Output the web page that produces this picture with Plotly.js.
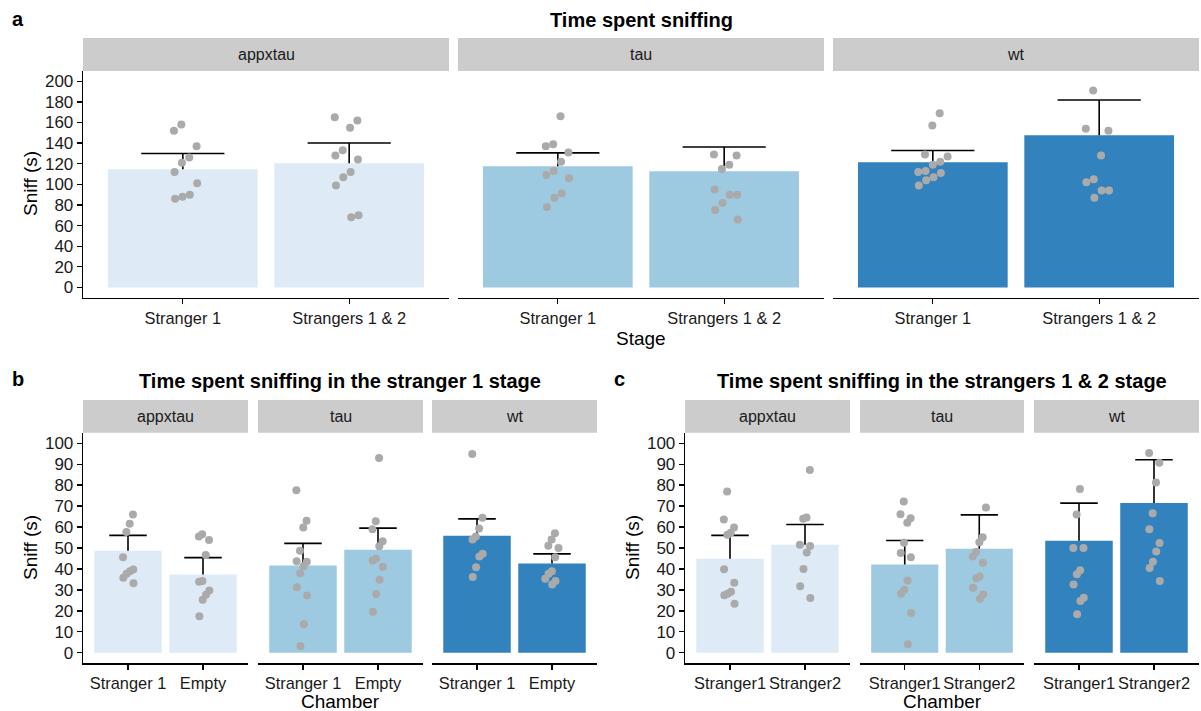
<!DOCTYPE html>
<html>
<head>
<meta charset="utf-8">
<script src="https://cdn.plot.ly/plotly-3.0.1.min.js"></script>
<style>
  html, body { margin: 0; padding: 0; background: #fff; }
  #chart { width: 1201px; height: 711px; }
</style>
</head>
<body>
<div id="chart"></div>
<script>
// ---- Data ---------------------------------------------------------------
const genotypes = ['appxtau', 'tau', 'wt'];
const genotypeColors = ['#DEEBF7', '#9ECAE1', '#3182BD'];

// (a) Time spent sniffing per stage
const stageLabels = ['Stranger 1', 'Strangers 1 & 2'];
const stageMeans = [[114.7, 120.5], [117.6, 112.7], [121.5, 147.6]];
const stageSE    = [[15.2, 19.7], [12.9, 23.6], [11.3, 34.3]];
const stagePoints = [
  [[158, 152, 137, 126, 121, 112, 101, 90, 88, 86],
   [165, 162, 155, 133, 128, 124, 112, 107, 99, 70, 68]],
  [[166, 139, 137, 131, 122, 113, 109, 106, 91, 87, 78],
   [129, 128, 119, 115, 95, 90, 90, 82, 75, 66]],
  [[169, 157, 129, 127, 122, 119, 113, 112, 111, 107, 104, 99],
   [191, 154, 152, 128, 105, 102, 94, 94, 87]]
];

// (b) Stranger 1 stage, per chamber
const s1Labels = ['Stranger 1', 'Empty'];
const s1Means = [[48.7, 37.3], [41.6, 49.2], [55.9, 42.6]];
const s1SE    = [[7.3, 8.1], [10.6, 10.3], [8.0, 4.6]];
const s1Points = [
  [[66, 61.6, 57.6, 45.6, 39.7, 38.9, 37.7, 35.8, 33.2],
   [56.6, 55.5, 53.8, 46.7, 34.3, 33.9, 29.7, 27.7, 25.3, 17.4]],
  [[77.5, 63, 59.8, 48.7, 43.7, 43.5, 41.3, 38, 31.3, 27.4, 13.6, 3.3],
   [92.9, 62.8, 59, 53.2, 50.8, 44.9, 44, 41.1, 34.8, 28, 19.6]],
  [[94.8, 64.4, 59.3, 55.5, 54, 47.2, 45.9, 40.8, 36.2],
   [57, 54.1, 51.1, 50, 45.6, 38.9, 37.7, 35.3, 34.2, 32.6]]
];

// (c) Strangers 1 & 2 stage, per chamber
const s12Labels = ['Stranger1', 'Stranger2'];
const s12Means = [[44.9, 51.6], [42.1, 49.7], [53.5, 71.5]];
const s12SE    = [[11.1, 9.6], [11.5, 16.1], [17.9, 20.6]];
const s12Points = [
  [[76.9, 63.6, 59.8, 57.3, 56.3, 39.9, 33.4, 29.1, 28.2, 27.5, 23.4],
   [87.2, 64.6, 63.9, 51.6, 50.9, 47.9, 40, 31.8, 26.1]],
  [[72.2, 66.1, 64.2, 62, 52.5, 47.6, 45.6, 34.5, 30.1, 28.2, 19, 4.1],
   [69.3, 55.1, 52.7, 48.1, 46, 43, 36.4, 35.6, 31, 27.8, 25.8]],
  [[78.2, 66, 50, 50, 39.4, 37.5, 32.6, 26.3, 24.7, 18.4],
   [95.3, 90.7, 81.2, 66.6, 58.9, 52.4, 48.3, 43.5, 40.5, 34.2]]
];

// ---- Layout helpers (pixel positions -> paper fractions) ----------------
const W = 1201, H = 711;
const px = x => x / W;
const py = y => 1 - y / H;
const FONT = 'Liberation Sans, Arial, Helvetica, sans-serif';

const rowA  = { strip: 38,  top: 71,    bottom: 297.7 };
const rowBC = { strip: 400, top: 432.7, bottom: 663.3 };

const traces = [];
const layout = {
  width: W, height: H,
  margin: { l: 0, r: 0, t: 0, b: 0 },
  paper_bgcolor: '#fff', plot_bgcolor: 'rgba(0,0,0,0)',
  showlegend: false,
  bargap: 0.1,
  font: { family: FONT, size: 16, color: '#000' },
  shapes: [], annotations: []
};

// deterministic horizontal jitter for the individual animals
function jitter(k, seed) {
  const v = (k * 0.7548776662 + seed * 0.5698402910 + 0.31) % 1;
  return (v - 0.5) * 2 * 0.09;
}

const CAP = 0.25; // half-width of the error-bar cap, in category units

let panelIndex = 0;
function addPanel(xr, row, yRange, dtick, showY, labels, means, se, pts, color, stripText) {
  panelIndex += 1;
  const n = panelIndex;
  const xa = n === 1 ? 'xaxis' : 'xaxis' + n;
  const ya = n === 1 ? 'yaxis' : 'yaxis' + n;
  const xref = n === 1 ? 'x' : 'x' + n;
  const yref = n === 1 ? 'y' : 'y' + n;

  // bars (mean)
  traces.push({
    type: 'bar', x: [0, 1], y: means, xaxis: xref, yaxis: yref,
    marker: { color: color, line: { width: 0 } }, hoverinfo: 'y'
  });
  // upper error bar: stem from the mean to mean + SE, with a cap on top
  const ex = [], ey = [];
  means.forEach((m, c) => {
    const top = m + se[c];
    ex.push(c, c, null, c - CAP, c + CAP, null);
    ey.push(m, top, null, top, top, null);
  });
  traces.push({
    type: 'scatter', mode: 'lines', x: ex, y: ey, xaxis: xref, yaxis: yref,
    line: { color: '#000', width: 1.6 }, hoverinfo: 'skip', connectgaps: false
  });
  // individual animals
  pts.forEach((vals, c) => {
    traces.push({
      type: 'scatter', mode: 'markers', xaxis: xref, yaxis: yref,
      x: vals.map((v, k) => c + jitter(k, n * 2 + c)),
      y: vals,
      marker: { color: '#AAAAAA', size: 8, line: { width: 0 } },
      hoverinfo: 'y'
    });
  });

  layout[xa] = {
    domain: [px(xr[0]), px(xr[1])], anchor: yref,
    range: [-0.6, 1.6], tickvals: [0, 1], ticktext: labels, tickangle: 0,
    showgrid: false, zeroline: false,
    showline: true, linecolor: '#000', linewidth: 1.3,
    ticks: 'outside', ticklen: 5, tickwidth: 1.3, tickcolor: '#000',
    tickfont: { family: FONT, size: 16.4, color: '#1a1a1a' }, fixedrange: true
  };
  layout[ya] = {
    domain: [py(row.bottom), py(row.top)], anchor: xref,
    range: yRange, dtick: dtick, tick0: 0,
    showgrid: false, zeroline: false,
    showline: showY, linecolor: '#000', linewidth: 1.3,
    ticks: showY ? 'outside' : '', ticklen: 5, tickwidth: 1.3, tickcolor: '#000',
    showticklabels: showY,
    tickfont: { family: FONT, size: 17, color: '#1a1a1a' }, fixedrange: true
  };

  // facet strip
  layout.shapes.push({
    type: 'rect', xref: 'paper', yref: 'paper',
    x0: px(xr[0]), x1: px(xr[1]), y0: py(row.top), y1: py(row.strip),
    fillcolor: '#CCCCCC', line: { width: 0 }, layer: 'below'
  });
  layout.annotations.push({
    xref: 'paper', yref: 'paper', x: px((xr[0] + xr[1]) / 2), y: py((row.top + row.strip) / 2),
    text: stripText, showarrow: false, xanchor: 'center', yanchor: 'middle',
    font: { family: FONT, size: 16, color: '#1a1a1a' }
  });
}

const panelsA = [[83, 449], [458, 824], [833, 1199]];
const panelsB = [[83, 248], [258, 423], [432, 597]];
const panelsC = [[685, 850], [860, 1024], [1034, 1199]];

genotypes.forEach((g, i) => addPanel(panelsA[i], rowA, [-10, 210], 20, i === 0,
  stageLabels, stageMeans[i], stageSE[i], stagePoints[i], genotypeColors[i], g));
genotypes.forEach((g, i) => addPanel(panelsB[i], rowBC, [-5, 105], 10, i === 0,
  s1Labels, s1Means[i], s1SE[i], s1Points[i], genotypeColors[i], g));
genotypes.forEach((g, i) => addPanel(panelsC[i], rowBC, [-5, 105], 10, i === 0,
  s12Labels, s12Means[i], s12SE[i], s12Points[i], genotypeColors[i], g));

// titles, panel tags and axis titles
function label(text, x, y, size, angle) {
  layout.annotations.push({
    xref: 'paper', yref: 'paper', x: px(x), y: py(y), text: text,
    showarrow: false, xanchor: 'center', yanchor: 'middle', textangle: angle || 0,
    font: { family: FONT, size: size, color: '#000' }
  });
}
label('<b>a</b>', 18, 19, 20);
label('<b>Time spent sniffing</b>', 641, 20, 20);
label('Stage', 641, 339, 19);
label('Sniff (s)', 30, 184, 19, -90);

label('<b>b</b>', 18, 379, 20);
label('<b>Time spent sniffing in the stranger 1 stage</b>', 340, 381, 20);
label('Chamber', 340, 701, 19);
label('Sniff (s)', 30, 548, 19, -90);

label('<b>c</b>', 619, 379, 20);
label('<b>Time spent sniffing in the strangers 1 &amp; 2 stage</b>', 942, 381, 20);
label('Chamber', 942, 701, 19);
label('Sniff (s)', 632, 548, 19, -90);

Plotly.newPlot('chart', traces, layout, { staticPlot: true, displayModeBar: false });
</script>
</body>
</html>
